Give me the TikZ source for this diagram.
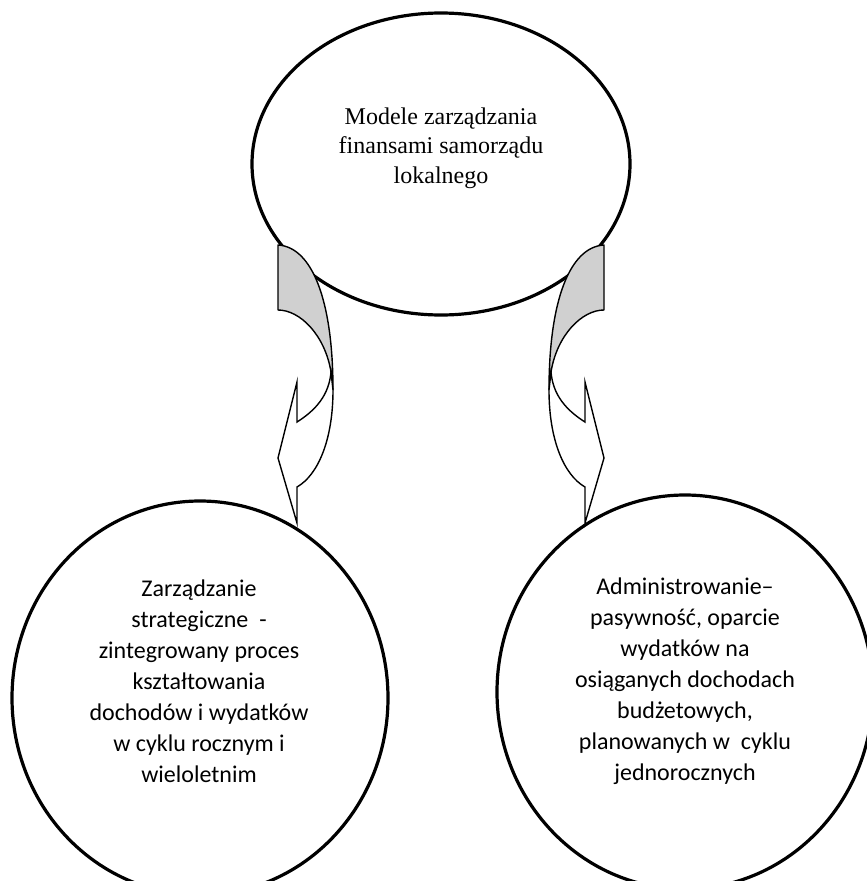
\documentclass[tikz,border=0pt]{standalone}
\usepackage{fontspec}
\setmainfont{Liberation Serif}
\newfontfamily\bodysans{Carlito}
\usetikzlibrary{shapes.geometric}
\definecolor{bandgray}{RGB}{208,208,208}
\tikzset{
  bubble/.style={draw=black, line width=3.2pt, ellipse, fill=white, inner sep=0pt},
  toplabel/.style={align=center, inner sep=0pt, font=\fontsize{24}{29.5}\selectfont},
  sidelabel/.style={align=center, inner sep=0pt, font=\bodysans\fontsize{24}{31}\selectfont},
  bandback/.style={draw=black, line width=1.4pt, fill=bandgray, line join=round},
  bandfront/.style={draw=black, line width=1.4pt, fill=white, line join=miter}
}
% curved block arrow: shaded back band, white front band with head
\newcommand\curvedblockarrow{%
  \path[bandback] (278,245) .. controls (312,247) and (333,300) .. (333,390)
    -- (331,372) .. controls (325,335) and (300,310) .. (278,310) -- cycle;
  \path[bandfront] (331,372) .. controls (329,395) and (316,410) .. (297,422)
    -- (297,382) -- (278,458) -- (297,523) -- (297,487)
    .. controls (318,475) and (333,440) .. (333,390) -- cycle;
}
\begin{document}
\begin{tikzpicture}[x=1pt, y=-1pt]
  \useasboundingbox (0,0) rectangle (867,881);
  \fill[white] (0,0) rectangle (867,881);
  \clip (0,0) rectangle (867,881);

  % top model ellipse
  \node[bubble, minimum width=378pt, minimum height=302pt] (models) at (441,164) {};
  \node[toplabel] (modelstext) at (441,148)
    {Modele zarządzania\\finansami samorządu\\lokalnego};

  % the two management styles
  \node[bubble, minimum width=376pt, minimum height=394pt] (strategic) at (200,698) {};
  \node[sidelabel] (strategictext) at (199,681)
    {Zarządzanie\\strategiczne \ -\\zintegrowany proces\\kształtowania\\dochodów i wydatków\\w cyklu rocznym i\\wieloletnim};

  \node[bubble, minimum width=376pt, minimum height=394pt] (admin) at (685,692) {};
  \node[sidelabel] (admintext) at (685,681)
    {Administrowanie–\\pasywność, oparcie\\wydatków na\\osiąganych dochodach\\budżetowych,\\planowanych w \ cyklu\\jednorocznych};

  % curved arrows from the top ellipse down to each style
  \curvedblockarrow
  \begin{scope}[cm={-1,0,0,1,(882pt,0pt)}]
    \curvedblockarrow
  \end{scope}
\end{tikzpicture}
\end{document}
